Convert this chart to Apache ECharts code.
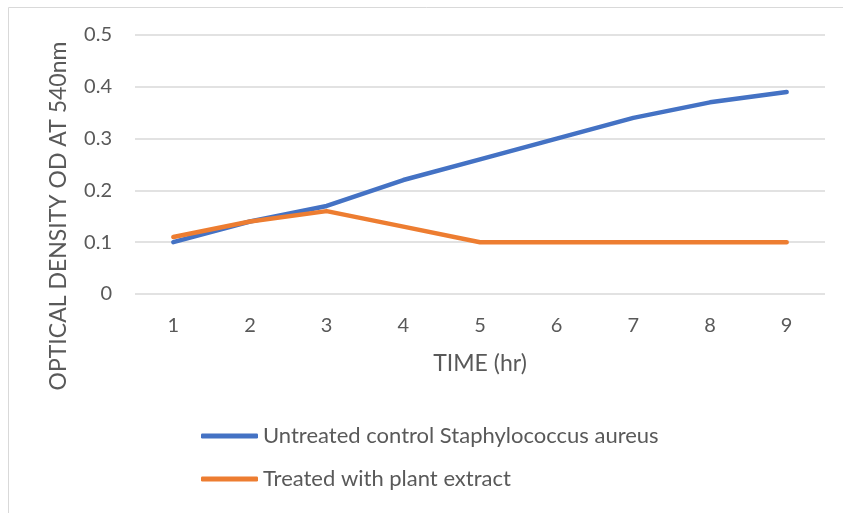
<!DOCTYPE html>
<html>
<head>
<meta charset="utf-8">
<script src="https://cdn.jsdelivr.net/npm/echarts@6/dist/echarts.min.js"></script>
<style>
  html, body { margin: 0; padding: 0; background: #fff; }
  #chart { width: 843px; height: 513px; }
</style>
</head>
<body>
<div id="chart"></div>
<script>
// 数据
const hours = ["1", "2", "3", "4", "5", "6", "7", "8", "9"];
const untreated = [0.10, 0.14, 0.17, 0.22, 0.26, 0.30, 0.34, 0.37, 0.39];
const treated = [0.11, 0.14, 0.16, 0.13, 0.10, 0.10, 0.10, 0.10, 0.10];
const seriesNames = ["Untreated control Staphylococcus aureus", "Treated with plant extract"];

const font = "Lato, 'Open Sans', sans-serif";
const textColor = "#595959";

let myChart = echarts.init(document.getElementById("chart"));
myChart.setOption({
  color: ["#4472C4", "#ED7D31"],
  animation: false,
  grid: { left: 135, right: 18, top: 35, bottom: 219 },
  graphic: [
    {
      type: "rect",
      shape: { x: 8.5, y: 7.5, width: 900, height: 600 },
      style: { fill: "none", stroke: "#d9d9d9", lineWidth: 1 },
    },
    {
      type: "text",
      x: 59,
      y: 216,
      rotation: Math.PI / 2,
      style: {
        text: "OPTICAL DENSITY OD AT 540nm",
        fill: textColor,
        font: "23px " + font,
        textAlign: "center",
        textVerticalAlign: "middle",
      },
    },
  ],
  legend: {
    orient: "vertical",
    left: 196,
    top: 420,
    itemWidth: 57,
    itemHeight: 5,
    itemGap: 21,
    icon: "roundRect",
    textStyle: { color: textColor, fontSize: 22, fontFamily: font },
    data: seriesNames,
  },
  xAxis: {
    type: "category",
    data: hours,
    name: "TIME (hr)",
    nameLocation: "middle",
    nameGap: 58,
    nameTextStyle: { color: textColor, fontSize: 23, fontFamily: font },
    axisLine: { show: false },
    axisTick: { show: false },
    axisLabel: { color: textColor, fontSize: 20, fontFamily: font, margin: 22 },
  },
  yAxis: {
    type: "value",
    min: 0,
    max: 0.5,
    interval: 0.1,
    axisLabel: { color: textColor, fontSize: 20, fontFamily: font, margin: 23 },
    splitLine: { lineStyle: { color: "#d9d9d9", width: 1.5 } },
  },
  series: [
    {
      name: seriesNames[0],
      type: "line",
      data: untreated,
      symbol: "none",
      lineStyle: { width: 4.5, cap: "round", join: "round" },
    },
    {
      name: seriesNames[1],
      type: "line",
      data: treated,
      symbol: "none",
      lineStyle: { width: 4.5, cap: "round", join: "round" },
    },
  ],
});

window.addEventListener("resize", () => {
  myChart.resize();
});
</script>
</body>
</html>
